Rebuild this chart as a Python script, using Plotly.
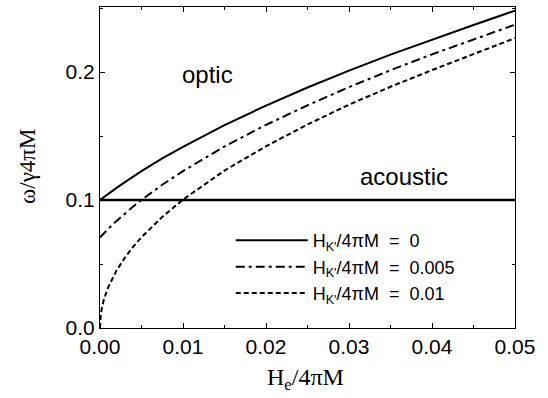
import plotly.graph_objects as go

# Data
he = [0, 0.0001, 0.00025, 0.0005, 0.001, 0.002, 0.003, 0.004, 0.005, 0.0075, 0.01,
      0.015, 0.02, 0.025, 0.03, 0.035, 0.04, 0.045, 0.05]
optic_hk0 = [0.100, 0.1005, 0.1012, 0.1025, 0.1050, 0.1095, 0.1140, 0.1183, 0.1225, 0.1325, 0.1416,
             0.1585, 0.1738, 0.1879, 0.2011, 0.2136, 0.2254, 0.2367, 0.2480]
optic_hk005 = [0.0707, 0.0714, 0.0724, 0.0742, 0.0775, 0.0837, 0.0895, 0.0949, 0.1000, 0.1119, 0.1226,
               0.1418, 0.1587, 0.1740, 0.1882, 0.2014, 0.2138, 0.2257, 0.2370]
optic_hk01 = [0.0, 0.0110, 0.0165, 0.0230, 0.0320, 0.0450, 0.0550, 0.0635, 0.0710, 0.0868, 0.1003,
              0.1230, 0.1420, 0.1590, 0.1745, 0.1885, 0.2015, 0.2140, 0.2265]
acoustic_x = [0, 0.05]
acoustic_y = [0.1, 0.1]

legend_names = ["H<sub>K'</sub>/4πM  =  0", "H<sub>K'</sub>/4πM  =  0.005", "H<sub>K'</sub>/4πM  =  0.01"]
x_ticks = [0.0, 0.01, 0.02, 0.03, 0.04, 0.05]
x_ticklabels = ["0.00", "0.01", "0.02", "0.03", "0.04", "0.05"]
y_ticks = [0.0, 0.1, 0.2]
y_ticklabels = ["0.0", "0.1", "0.2"]

SANS = "Liberation Sans, Arial, sans-serif"
SERIF = "Liberation Serif, Times New Roman, serif"

fig = go.Figure()
fig.add_trace(go.Scatter(x=acoustic_x, y=acoustic_y, mode="lines",
                         line=dict(color="black", width=2.5), showlegend=False))
fig.add_trace(go.Scatter(x=he, y=optic_hk0, mode="lines", name=legend_names[0],
                         line=dict(color="black", width=2)))
fig.add_trace(go.Scatter(x=he, y=optic_hk005, mode="lines", name=legend_names[1],
                         line=dict(color="black", width=2, dash="9px,4px,3px,4px")))
fig.add_trace(go.Scatter(x=he, y=optic_hk01, mode="lines", name=legend_names[2],
                         line=dict(color="black", width=2, dash="5px,3px")))

axis_common = dict(showgrid=False, zeroline=False, showline=True, linecolor="black",
                   linewidth=1.2, mirror="ticks", ticks="inside", ticklen=5,
                   tickcolor="black", tickfont=dict(family=SANS, size=21, color="black"))

fig.update_xaxes(range=[0, 0.05], tickvals=x_ticks, ticktext=x_ticklabels,
                 minor=dict(dtick=0.005, ticks="inside", ticklen=3, tickcolor="black"),
                 **axis_common)
fig.update_yaxes(range=[0, 0.2508], tickvals=y_ticks, ticktext=y_ticklabels,
                 minor=dict(dtick=0.05, ticks="inside", ticklen=3, tickcolor="black"),
                 **axis_common)

fig.update_layout(
    width=548, height=398,
    margin=dict(l=100, r=33, t=7, b=70),
    paper_bgcolor="white", plot_bgcolor="white",
    showlegend=True,
    legend=dict(x=0.315, y=0.33, xanchor="left", yanchor="top",
                bgcolor="rgba(0,0,0,0)", borderwidth=0,
                font=dict(family=SANS, size=18, color="black"),
                tracegroupgap=0, itemwidth=72),
    annotations=[
        dict(text="optic", x=0.013, y=0.198, xref="x", yref="y", showarrow=False,
             font=dict(family=SANS, size=24, color="black")),
        dict(text="acoustic", x=0.0366, y=0.118, xref="x", yref="y", showarrow=False,
             font=dict(family=SANS, size=24, color="black")),
        dict(text="ω/γ4πM", x=-0.1735, y=0.505, xref="paper", yref="paper",
             showarrow=False, textangle=-90, xanchor="center", yanchor="middle",
             font=dict(family=SERIF, size=23, color="black")),
        dict(text="H<sub>e</sub>/4πM", x=0.494, y=-0.16, xref="paper", yref="paper",
             showarrow=False, xanchor="center", yanchor="middle",
             font=dict(family=SERIF, size=24, color="black")),
    ],
)

fig.write_html("out.html")
